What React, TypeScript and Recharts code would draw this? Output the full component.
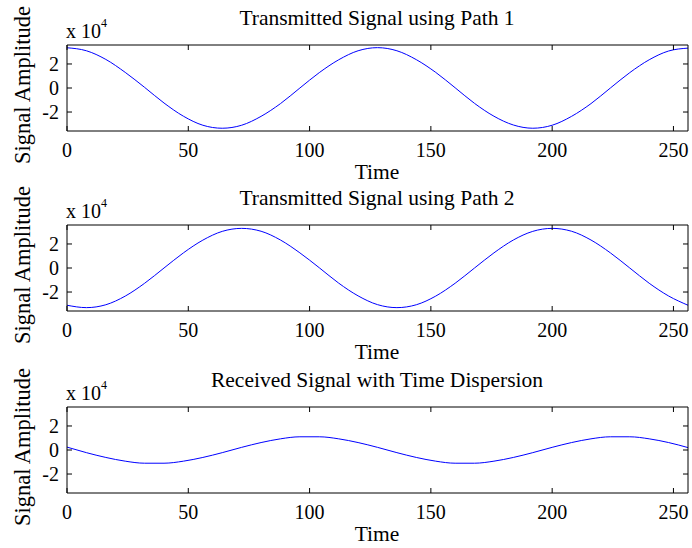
import React from 'react';
import { LineChart, Line, XAxis, YAxis } from 'recharts';

const time = [
  0, 8, 16, 24, 32, 40, 48, 56, 64, 72, 80, 88, 96, 104, 112, 120, 128,
  136, 144, 152, 160, 168, 176, 184, 192, 200, 208, 216, 224, 232, 240, 248, 256,
];

// values in units of 10^4
const path1 = [
  3.35, 3.1, 2.38, 1.3, 0.05, -1.25, -2.35, -3.1, -3.35, -3.1, -2.36, -1.3, 0, 1.28, 2.35, 3.1, 3.36,
  3.1, 2.36, 1.3, 0.02, -1.28, -2.35, -3.08, -3.35, -3.1, -2.36, -1.3, 0, 1.28, 2.35, 3.08, 3.32,
];

const path2 = [
  -3.1, -3.3, -3.06, -2.34, -1.27, 0, 1.26, 2.32, 3.05, 3.3, 3.06, 2.33, 1.26, 0.02, -1.26, -2.32, -3.05,
  -3.3, -3.06, -2.34, -1.27, 0, 1.26, 2.33, 3.05, 3.3, 3.06, 2.33, 1.26, 0, -1.27, -2.33, -3.1,
];

const received = [
  0.24, -0.22, -0.62, -0.93, -1.1, -1.1, -0.93, -0.62, -0.22, 0.22, 0.62, 0.93, 1.1, 1.1, 0.93, 0.62, 0.22,
  -0.22, -0.62, -0.93, -1.1, -1.1, -0.93, -0.62, -0.22, 0.22, 0.62, 0.93, 1.1, 1.1, 0.93, 0.62, 0.2,
];

const xTicks = [0, 50, 100, 150, 200, 250];
const yTicks = [-2, 0, 2];

const panels = [
  { title: 'Transmitted Signal using Path 1', values: path1, top: 0 },
  { title: 'Transmitted Signal using Path 2', values: path2, top: 180 },
  { title: 'Received Signal with Time Dispersion', values: received, top: 362 },
];

const FONT = 'Liberation Serif';
const noTick = () => <g />;
const tickStyle = { fontFamily: FONT, fontSize: 20, fill: '#000' };
const xDomain = [0, 256];
const yDomain = [-3.58, 3.58];

function Panel({ title, values, top }: { title: string; values: number[]; top: number }) {
  const data = time.map((t, i) => ({ t, v: values[i] }));
  const text: React.CSSProperties = {
    position: 'absolute',
    fontFamily: FONT,
    fontSize: 21.5,
    color: '#000',
    whiteSpace: 'nowrap',
    lineHeight: 1,
  };
  return (
    <div style={{ position: 'absolute', left: 0, top, width: 692, height: 182 }}>
      <LineChart width={692} height={182} data={data} margin={{ top: 45, right: 4, bottom: 21, left: 0 }}>
        <XAxis
          xAxisId="b"
          dataKey="t"
          type="number"
          domain={xDomain}
          ticks={xTicks}
          interval={0}
          allowDataOverflow
          tickLine={false}
          tickMargin={6}
          axisLine={{ stroke: '#000' }}
          tick={tickStyle}
          height={30}
        />
        <XAxis
          xAxisId="bm"
          dataKey="t"
          type="number"
          domain={xDomain}
          ticks={xTicks}
          interval={0}
          allowDataOverflow
          mirror
          axisLine={false}
          tickLine={{ stroke: '#000' }}
          tickSize={5}
          tick={noTick}
        />
        <XAxis
          xAxisId="tm"
          orientation="top"
          dataKey="t"
          type="number"
          domain={xDomain}
          ticks={xTicks}
          interval={0}
          allowDataOverflow
          mirror
          axisLine={{ stroke: '#000' }}
          tickLine={{ stroke: '#000' }}
          tickSize={5}
          tick={noTick}
        />
        <YAxis
          yAxisId="l"
          type="number"
          domain={yDomain}
          ticks={yTicks}
          interval={0}
          allowDataOverflow
          tickLine={false}
          axisLine={{ stroke: '#000' }}
          tick={tickStyle}
          width={67}
        />
        <YAxis
          yAxisId="lm"
          type="number"
          domain={yDomain}
          ticks={yTicks}
          interval={0}
          allowDataOverflow
          mirror
          axisLine={false}
          tickLine={{ stroke: '#000' }}
          tickSize={5}
          tick={noTick}
        />
        <YAxis
          yAxisId="rm"
          orientation="right"
          type="number"
          domain={yDomain}
          ticks={yTicks}
          interval={0}
          allowDataOverflow
          mirror
          axisLine={{ stroke: '#000' }}
          tickLine={{ stroke: '#000' }}
          tickSize={5}
          tick={noTick}
        />
        {/* invisible series so the mirrored box axes get drawn */}
        <Line xAxisId="bm" yAxisId="lm" dataKey="v" stroke="none" dot={false} isAnimationActive={false} />
        <Line xAxisId="tm" yAxisId="rm" dataKey="v" stroke="none" dot={false} isAnimationActive={false} />
        <Line
          xAxisId="b"
          yAxisId="l"
          dataKey="v"
          type="monotone"
          stroke="#0000ff"
          strokeWidth={1}
          dot={false}
          isAnimationActive={false}
        />
      </LineChart>
      <div style={{ ...text, left: 377, top: 8, transform: 'translateX(-50%)' }}>{title}</div>
      <div style={{ ...text, left: 66, top: 21, fontSize: 20 }}>
        x 10<span style={{ fontSize: 12, verticalAlign: 'top', position: 'relative', top: -4 }}>4</span>
      </div>
      <div
        style={{
          ...text,
          left: 23,
          top: 85,
          fontSize: 22.5,
          transform: 'translate(-50%, -50%) rotate(-90deg)',
        }}
      >
        Signal Amplitude
      </div>
      <div style={{ ...text, left: 377, top: 162, transform: 'translateX(-50%)' }}>Time</div>
    </div>
  );
}

export default function App() {
  return (
    <div style={{ position: 'absolute', left: 0, top: 0, width: 692, height: 548, background: '#fff' }}>
      {panels.map((p) => (
        <Panel key={p.title} title={p.title} values={p.values} top={p.top} />
      ))}
    </div>
  );
}
